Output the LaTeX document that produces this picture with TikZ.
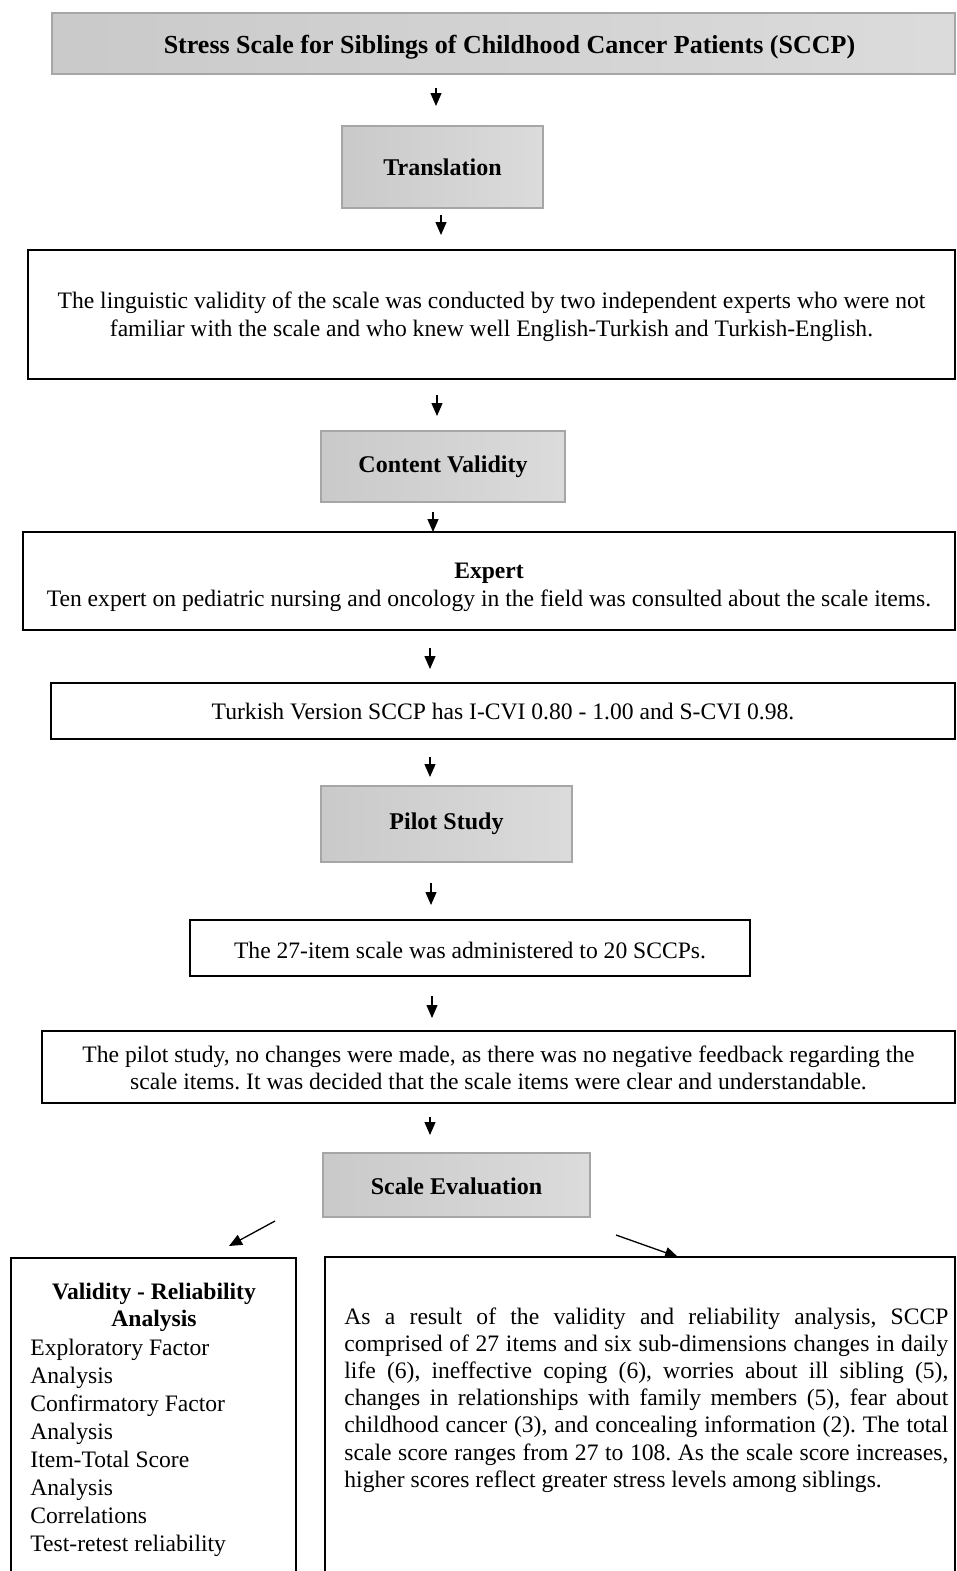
\documentclass[tikz,border=0pt]{standalone}
\usepackage{fontspec}
\setmainfont{Liberation Serif}
\usetikzlibrary{arrows.meta}
\newcommand{\upstrut}[1]{\rule{0pt}{#1}}
\frenchspacing
\begin{document}
\begin{tikzpicture}[x=0.5pt,y=-0.5pt,
 graybox/.style={draw=black!35, line width=0.7pt, left color=black!21, right color=black!14, inner sep=0pt, font=\fontsize{12}{14}\selectfont\bfseries},
 whitebox/.style={draw=black, line width=1pt, fill=white, inner sep=0pt, align=center, font=\fontsize{11.8}{13.6}\selectfont\frenchspacing},
 plaintext/.style={inner sep=0pt, font=\fontsize{11.8}{13.6}\selectfont\frenchspacing},
 arr/.style={line width=0.65pt, -{Triangle[length=6.5pt,width=5.5pt]}}]
\useasboundingbox (0,0) rectangle (957,1571);
\clip (0,0) rectangle (957,1571);

\node[graybox, minimum width=451.5pt, minimum height=30.5pt, font=\fontsize{13}{15}\selectfont\bfseries] (title) at (503.5,43.5) {\hspace*{6pt}\upstrut{12.5pt}Stress Scale for Siblings of Childhood Cancer Patients (SCCP)};
\node[graybox, minimum width=100.5pt, minimum height=41pt] (trans) at (442.5,167) {\upstrut{9pt}Translation};
\node[whitebox, minimum width=463.5pt, minimum height=64.5pt] (ling) at (491.5,314) {\upstrut{11pt}The linguistic validity of the scale was conducted by two independent experts who were not\\familiar with the scale and who knew well English-Turkish and Turkish-English.};
\node[graybox, minimum width=122pt, minimum height=35.5pt] (content) at (443,466.5) {\upstrut{8.5pt}Content Validity};
\node[whitebox, minimum width=466pt, minimum height=49pt] (expert) at (489,581) {\upstrut{14pt}\textbf{Expert}\\Ten expert on pediatric nursing and oncology in the field was consulted about the scale items.};
\node[whitebox, minimum width=452pt, minimum height=28pt] (turkish) at (503,711) {Turkish Version SCCP has I-CVI 0.80 - 1.00 and S-CVI 0.98.};
\node[graybox, minimum width=125.5pt, minimum height=38pt] (pilot) at (446.5,824) {Pilot Study};
\node[whitebox, minimum width=280pt, minimum height=28pt] (items) at (470,948) {\upstrut{11pt}The 27-item scale was administered to 20 SCCPs.};
\node[whitebox, minimum width=456.5pt, minimum height=36pt] (pilotres) at (498.5,1067) {\upstrut{9pt}The pilot study, no changes were made, as there was no negative feedback regarding the\\scale items. It was decided that the scale items were clear and understandable.};
\node[graybox, minimum width=133.5pt, minimum height=32pt] (scaleeval) at (456.5,1185) {\upstrut{10pt}Scale Evaluation};
\node[whitebox, minimum width=142.5pt, minimum height=171pt] (leftbox) at (153.5,1429) {};
\node[whitebox, minimum width=315pt, minimum height=171.5pt] (rightbox) at (640,1428.5) {};

\node[plaintext, align=center, anchor=north, font=\fontsize{11.8}{13.5}\selectfont\bfseries] (lefthead) at (154,1283) {Validity - Reliability\\Analysis};
\node[plaintext, align=left, anchor=north west, font=\fontsize{11.8}{14}\selectfont] (leftlist) at (30,1339) {Exploratory Factor\\Analysis\\Confirmatory Factor\\Analysis\\Item-Total Score\\Analysis\\Correlations\\Test-retest reliability};
\node[plaintext, align=justify, text width=302pt, anchor=north west] (righttxt) at (344,1307) {As a result of the validity and reliability analysis, SCCP\linebreak comprised of 27 items and six sub-dimensions changes in daily\linebreak life (6), ineffective coping (6), worries about ill sibling (5),\linebreak changes in relationships with family members (5), fear about\linebreak childhood cancer (3), and concealing information (2). The total\linebreak scale score ranges from 27 to 108. As the scale score increases,\linebreak higher scores reflect greater stress levels among siblings.};

\coordinate (a1s) at (436,88);   \coordinate (a1e) at (436,106);
\coordinate (a2s) at (441,215);  \coordinate (a2e) at (441,235);
\coordinate (a3s) at (437,395);  \coordinate (a3e) at (437,416);
\coordinate (a4s) at (433,512);  \coordinate (a4e) at (433,532);
\coordinate (a5s) at (430,648);  \coordinate (a5e) at (430,669);
\coordinate (a6s) at (430,757);  \coordinate (a6e) at (430,777);
\coordinate (a7s) at (431,883);  \coordinate (a7e) at (431,905);
\coordinate (a8s) at (432,996);  \coordinate (a8e) at (432,1018);
\coordinate (a9s) at (430,1117); \coordinate (a9e) at (430,1135);
\coordinate (a10s) at (275,1221); \coordinate (a10e) at (229,1246);
\coordinate (a11s) at (616,1235); \coordinate (a11e) at (678,1257);
\foreach \i in {1,...,11} {\draw[arr] (a\i s) -- (a\i e);}
\end{tikzpicture}
\end{document}
